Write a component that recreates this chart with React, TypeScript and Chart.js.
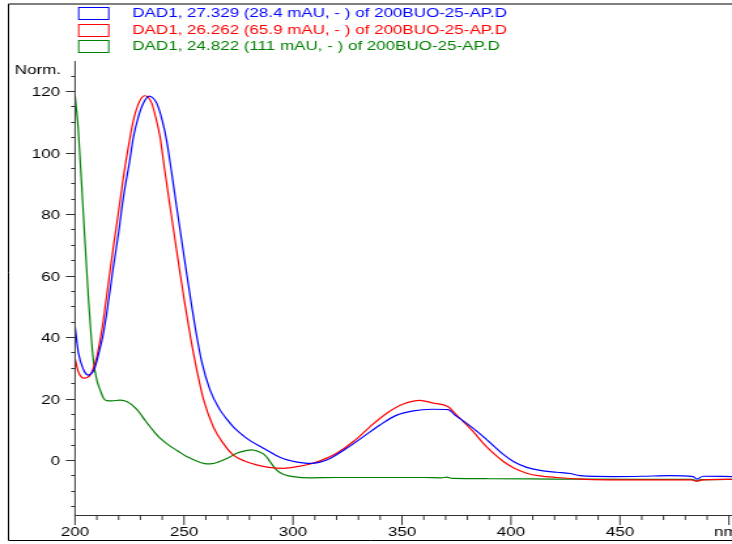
import React, { useEffect, useRef } from "react";
import { Chart, registerables } from "chart.js";

Chart.register(...registerables);

// Wavelength (nm) / normalized absorbance for each spectrum
const blueNm = [200, 201.5, 203.8, 206, 208, 209.2, 211, 213, 215, 217.6, 220, 222.2, 225, 226.8, 229, 230.6, 232.5, 234.1, 236, 237.5, 240, 242, 244, 246.6, 249, 251.2, 253.5, 255.5, 258.1, 261.9, 266.5, 269.6, 272.6, 276, 280.3, 286, 292.5, 296, 300, 307.8, 312, 317, 324.6, 332.3, 339.9, 347.6, 355.2, 363.8, 371.2, 374.3, 378.1, 382.7, 387.3, 391.9, 396.5, 401.1, 407.2, 413.3, 421, 427, 431.7, 446.9, 460, 473, 483.6, 485.2, 488.2, 501.4];
const blueVal = [43.5, 35, 29.5, 27.6, 28.5, 30.3, 35, 41.2, 50, 62.9, 74, 85.6, 97, 105.1, 111.5, 114.9, 117.5, 118.4, 117.6, 116, 110.5, 104, 95, 82.4, 71, 60.7, 50.2, 41.6, 32, 22.8, 16.3, 13.3, 10.8, 8.6, 6.3, 4.0, 1.4, 0.3, -0.4, -1.1, -0.8, 0.5, 3.8, 7.6, 11.4, 14.6, 16, 16.5, 16.4, 14.6, 12.7, 10.3, 7.6, 4.7, 1.8, -0.5, -2.4, -3.4, -4, -4.4, -5.1, -5.4, -5.3, -5.1, -5.4, -6.2, -5.3, -5.4];

const redNm = [200, 201.5, 204.1, 205.5, 206.9, 208.5, 210, 211.5, 213, 215, 217.6, 220, 222.2, 224.5, 226.8, 229.8, 232.1, 233.5, 235.2, 237, 239, 241, 243.6, 246, 248.2, 250.5, 253, 255.8, 258.9, 263.4, 268, 272.6, 278, 283.3, 289, 295.6, 303.2, 308, 312.4, 320, 327.7, 335.3, 343, 350.6, 358.3, 363.8, 371.2, 374.3, 378.1, 382.7, 387.3, 391.9, 396.5, 401.1, 407.2, 413.3, 421, 431.7, 460, 483, 485, 488, 501.4];
const redVal = [33, 28.7, 26.6, 26.8, 27.6, 30, 33.6, 39, 45.5, 56, 69.4, 81, 92.1, 102, 110.6, 117, 118.5, 118, 116, 111.5, 105.1, 95, 82.4, 71, 60.7, 50.3, 39.8, 29.5, 19.8, 10.8, 5.4, 1.6, -0.4, -1.6, -2.4, -2.7, -2, -1.3, -0.3, 2.2, 6, 10.8, 15.2, 18.2, 19.4, 18.6, 17.3, 15.2, 12.5, 9.2, 5.4, 2.2, -0.5, -2.5, -4.3, -5.2, -5.7, -6.2, -6.5, -6.5, -6.9, -6.5, -6.3];

const greenNm = [200, 201.5, 203.8, 206.1, 208.4, 210, 211.5, 213, 214.5, 217, 220.6, 223, 225.2, 227.5, 229.8, 232, 234.4, 236.5, 239, 243.6, 247, 251.2, 255, 257.5, 260.4, 263, 265.5, 268, 271, 274.2, 277.5, 281, 284, 286.4, 288, 289.5, 292.5, 295, 297.1, 300, 307.8, 320, 340, 360, 368, 370.5, 373, 390, 420, 460, 483, 485, 487, 501.4];
const greenVal = [118.7, 107.3, 80.2, 53.1, 32.5, 26, 22.8, 20.2, 19.3, 19.2, 19.5, 19.2, 18.4, 17, 15.2, 13, 10.8, 9, 7.1, 4.5, 3.0, 1.1, -0.1, -0.8, -1.3, -1.2, -0.7, 0, 1.0, 2.2, 2.9, 3.3, 2.8, 2.0, 0.9, -0.6, -3.3, -4.5, -5.0, -5.4, -5.8, -5.7, -5.7, -5.7, -5.8, -5.6, -6, -6.1, -6.2, -6.3, -6.3, -6.8, -6.4, -6.3];

const legendLabels = [
  "DAD1, 27.329 (28.4 mAU, - ) of 200BUO-25-AP.D",
  "DAD1, 26.262 (65.9 mAU, - ) of 200BUO-25-AP.D",
  "DAD1, 24.822 (111 mAU, - ) of 200BUO-25-AP.D",
];
const seriesColors = ["#0000ff", "#ff0000", "#008000"];

const xTickLabels = [200, 250, 300, 350, 400, 450];
const yTickLabels = [0, 20, 40, 60, 80, 100, 120];
const xUnit = "nm";
const yUnit = "Norm.";

const FONT = "13px 'Liberation Sans', Arial, Helvetica, sans-serif";

const decorPlugin = {
  id: "decor",
  afterDraw(chart: any) {
    const ctx = chart.ctx as CanvasRenderingContext2D;
    const area = chart.chartArea;
    const xs = chart.scales.x;
    const ys = chart.scales.y;
    const W = chart.width;
    ctx.save();

    // frame
    ctx.strokeStyle = "#555";
    ctx.lineWidth = 1.5;
    ctx.beginPath();
    ctx.moveTo(6.5, 4);
    ctx.lineTo(W, 4);
    ctx.stroke();
    ctx.strokeStyle = "#000";
    ctx.lineWidth = 1;
    ctx.beginPath();
    ctx.moveTo(6.5, 4);
    ctx.lineTo(6.5, 540.5);
    ctx.lineTo(W, 540.5);
    ctx.stroke();

    // axes
    ctx.strokeStyle = "#333";
    ctx.lineWidth = 1;
    ctx.beginPath();
    ctx.moveTo(area.left, area.top);
    ctx.lineTo(area.left, area.bottom + 0.5);
    ctx.lineTo(W, area.bottom + 0.5);
    ctx.stroke();

    // y ticks
    ctx.font = FONT;
    ctx.fillStyle = "#000";
    ctx.textAlign = "right";
    ctx.textBaseline = "middle";
    for (let v = -15; v <= 125; v += 5) {
      const y = Math.round(ys.getPixelForValue(v)) + 0.5;
      const major = yTickLabels.includes(v);
      ctx.beginPath();
      ctx.moveTo(area.left - (major ? 7 : 3), y);
      ctx.lineTo(area.left, y);
      ctx.stroke();
      if (major) ctx.fillText(String(v), area.left - 11.5, y + 0.5);
    }
    ctx.fillText(yUnit, area.left - 10.7, 70);

    // x ticks
    ctx.textAlign = "center";
    for (let n = 200; n <= 500; n += 10) {
      const x = xs.getPixelForValue(n);
      const major = n % 50 === 0;
      ctx.beginPath();
      ctx.moveTo(x, area.bottom);
      ctx.lineTo(x, area.bottom + (major ? 10 : 5));
      ctx.stroke();
    }
    for (const n of xTickLabels) {
      ctx.fillText(String(n), xs.getPixelForValue(n), 532);
    }
    ctx.textAlign = "left";
    ctx.fillText(xUnit, 546.2, 532);

    // legend
    for (let i = 0; i < legendLabels.length; i++) {
      const cy = 13 + i * 16.67;
      ctx.strokeStyle = seriesColors[i];
      ctx.lineWidth = 1;
      ctx.strokeRect(60.2, Math.round(cy - 6) + 0.5, 23, 12);
      ctx.fillStyle = seriesColors[i];
      ctx.textAlign = "left";
      ctx.textBaseline = "middle";
      ctx.fillText(legendLabels[i], 101.2, cy + 0.5);
    }
    ctx.restore();
  },
};

function toPoints(nm: number[], vals: number[]) {
  return nm.map((x, i) => ({ x, y: vals[i] }));
}

export default function App() {
  const ref = useRef<HTMLCanvasElement | null>(null);
  useEffect(() => {
    if (!ref.current) return;
    const mk = (nm: number[], v: number[], color: string) => ({
      data: toPoints(nm, v),
      borderColor: color,
      borderWidth: 1.2,
      pointRadius: 0,
      fill: false,
      cubicInterpolationMode: "monotone" as const,
    });
    const chart = new Chart(ref.current, {
      type: "line",
      data: {
        datasets: [
          mk(blueNm, blueVal, seriesColors[0]),
          mk(redNm, redVal, seriesColors[1]),
          mk(greenNm, greenVal, seriesColors[2]),
        ],
      },
      options: {
        responsive: false,
        animation: false,
        devicePixelRatio: 1,
        layout: { padding: { left: 57.4, right: 0, top: 61, bottom: 29 } },
        scales: {
          x: { type: "linear", min: 200, max: 501.4, display: false },
          y: { type: "linear", min: -17.9, max: 129.8, display: false },
        },
        plugins: { legend: { display: false }, tooltip: { enabled: false } },
      },
      plugins: [decorPlugin],
    });
    return () => chart.destroy();
  }, []);
  return (
    <div style={{ position: "fixed", left: 0, top: 0, width: 732, height: 544, background: "#fff" }}>
      <canvas
        ref={ref}
        width={560}
        height={544}
        style={{ width: "732px", height: "544px", display: "block" }}
      />
    </div>
  );
}
